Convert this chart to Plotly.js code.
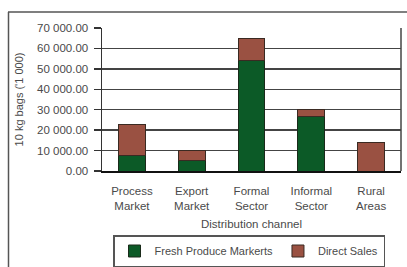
<!DOCTYPE html>
<html><head><meta charset="utf-8">
<script src="https://cdn.plot.ly/plotly-3.0.1.min.js"></script>
<style>html,body{margin:0;padding:0;background:#fff;}#chart{width:407px;height:267px;}</style>
</head><body><div id="chart"></div>
<script>
const categories = ["Process Market", "Export Market", "Formal Sector", "Informal Sector", "Rural Areas"];
const categoryLabels = ["Process<br>Market", "Export<br>Market", "Formal<br>Sector", "Informal<br>Sector", "Rural<br>Areas"];
const freshProduce = [7800, 4900, 54200, 26700, 0];
const directSales = [14800, 5100, 10600, 3400, 13900];
const yTickVals = [0, 10000, 20000, 30000, 40000, 50000, 60000, 70000];
const yTickText = ["0.00", "10 000.00", "20 000.00", "30 000.00", "40 000.00", "50 000.00", "60 000.00", "70 000.00"];

const txt = "#4a4a4a";
const font = {family: "Liberation Sans, Arial, sans-serif", size: 11.5, color: txt};
const traces = [
  {type: "bar", name: "Fresh Produce Markerts", x: categories, y: freshProduce,
   marker: {color: "#0c5a27", line: {color: "#1a2a1a", width: 1}}},
  {type: "bar", name: "Direct Sales", x: categories, y: directSales,
   marker: {color: "#9a5142", line: {color: "#3a2a22", width: 1}}}
];
const L = 102, R = 401, T = 28, B = 171;
const px = v => (v - L) / (R - L), py = v => (B - v) / (B - T);
const layout = {
  width: 407, height: 267, barmode: "stack", bargap: 0.55,
  margin: {l: 102, r: 6, t: 28, b: 96, pad: 0, autoexpand: false},
  paper_bgcolor: "#fff", plot_bgcolor: "#fff", font: font, showlegend: true,
  xaxis: {type: "category", tickvals: categories, ticktext: categoryLabels, automargin: false,
    showline: true, linecolor: "#111", linewidth: 2, mirror: false, ticks: "", ticklabelstandoff: 8,
    tickfont: {size: 11.5, color: txt},
    title: {text: "Distribution channel", font: {size: 11.5, color: txt}, standoff: 9}},
  yaxis: {range: [0, 70000], tickvals: yTickVals, ticktext: yTickText, automargin: false,
    showline: true, linecolor: "#333", linewidth: 1.5, ticks: "outside", ticklen: 7, tickcolor: "#333", tickwidth: 1.5,
    ticklabelstandoff: 3,
    showgrid: true, gridcolor: "#444", gridwidth: 1.3, zeroline: false,
    tickfont: {size: 11.5, color: txt},
    title: {text: "10 kg bags ('1 000)", font: {size: 11, color: txt}, standoff: 11}},
  legend: {orientation: "h", x: px(249), xanchor: "center", y: py(235), yanchor: "top",
    bordercolor: "#555", borderwidth: 1.5, font: {size: 11, color: txt}, traceorder: "normal",
    itemwidth: 30, tracegroupgap: 0},
  shapes: [
    {type: "line", xref: "paper", yref: "paper", x0: px(8), x1: px(407), y0: py(12), y1: py(12), line: {color: "#555", width: 1.5}},
    {type: "line", xref: "paper", yref: "paper", x0: px(8.5), x1: px(8.5), y0: py(12), y1: py(267), line: {color: "#555", width: 1.5}},
    {type: "line", xref: "paper", yref: "paper", x0: 1, x1: 1, y0: 0, y1: 1, line: {color: "#444", width: 1.5}}
  ]
};
Plotly.newPlot("chart", traces, layout, {staticPlot: true, displayModeBar: false});
</script></body></html>
